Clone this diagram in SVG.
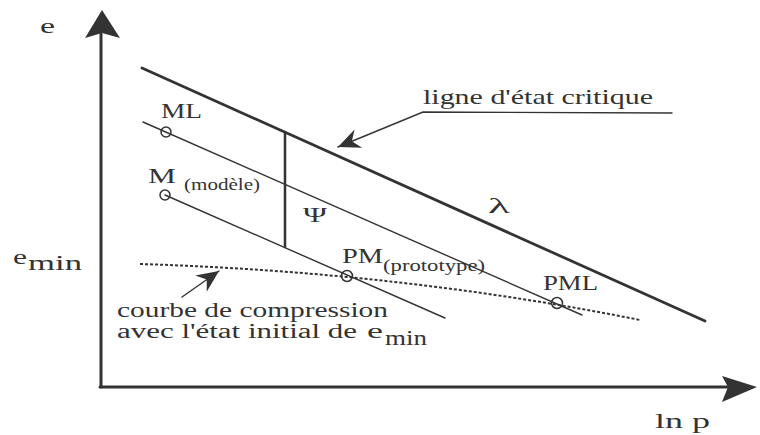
<svg xmlns="http://www.w3.org/2000/svg" width="760" height="435" viewBox="0 0 760 435">
<style>
.t{font-size:21px}
.c{font-size:20px}
.s{font-size:16px}
.ln{stroke:#333;fill:none;stroke-linecap:round}
.thin{stroke-width:1.4}
.thick{stroke-width:2.8}
.pt{fill:none;stroke:#333;stroke-width:1.5}
</style>
<defs>
<marker id="ah" markerUnits="userSpaceOnUse" viewBox="-24 -12 26 24" markerWidth="26" markerHeight="24" refX="0" refY="0" orient="auto">
<path d="M0,0 L-22,-10 L-15,0 L-22,10 Z" fill="#333"/>
</marker>
</defs>
<g id="axes">
<line class="ln" x1="101" y1="387" x2="101" y2="34" style="stroke-width:3"/>
<line class="ln" x1="100" y1="387" x2="728" y2="387" style="stroke-width:3"/>
<path d="M102,10 L120,38 L102,33 L85,38 Z" fill="#333"/>
<path d="M757,387 L722,376 L728,387 L722,402 Z" fill="#333"/>
</g>
<g id="connectors">
<line id="critical-line" class="ln thick" x1="142" y1="68" x2="705" y2="321"/>
<line id="ml-line" class="ln thin" x1="143" y1="122" x2="582" y2="315"/>
<line id="m-line" class="ln thin" x1="165" y1="195" x2="445" y2="318"/>
<line id="psi-line" class="ln" x1="285" y1="132" x2="285" y2="247" style="stroke-width:2.5"/>
<path id="compression-curve" class="ln" d="M140,264 Q400,272 640,320" style="stroke-width:2;stroke-dasharray:3 2;stroke-linecap:butt"/>
<polyline class="ln thin" points="672,113 423,112 338,147" marker-end="url(#ah)"/>
<line class="ln thin" x1="182" y1="297" x2="219" y2="271" marker-end="url(#ah)"/>
</g>
<g font-family="Liberation Serif, Times New Roman, serif" fill="#333" font-weight="normal">
<g id="e-axis-label"><text class="t" x="40" y="33" textLength="15" lengthAdjust="spacingAndGlyphs">e</text></g>
<g id="emin-label"><text class="t" x="13" y="264" textLength="14" lengthAdjust="spacingAndGlyphs">e</text><text class="t" x="28" y="270" textLength="54" lengthAdjust="spacingAndGlyphs">min</text></g>
<g id="lnp-label"><text class="t" x="655" y="428" textLength="55" lengthAdjust="spacingAndGlyphs">ln p</text></g>
<g id="ML"><circle class="pt" cx="166" cy="132" r="5"/><text class="t" x="161" y="118" textLength="41" lengthAdjust="spacingAndGlyphs">ML</text></g>
<g id="M"><circle class="pt" cx="165" cy="195" r="5"/><text class="t" x="148" y="183" textLength="28" lengthAdjust="spacingAndGlyphs">M</text><text class="s" x="184" y="190" textLength="76" lengthAdjust="spacingAndGlyphs">(modèle)</text></g>
<g id="PM"><circle class="pt" cx="347" cy="276" r="5.5"/><text class="t" x="342" y="263" textLength="41" lengthAdjust="spacingAndGlyphs">PM</text><text class="s" x="383" y="271" textLength="102" lengthAdjust="spacingAndGlyphs">(prototype)</text></g>
<g id="PML"><circle class="pt" cx="557" cy="303" r="5.5"/><text class="t" x="543" y="290" textLength="55" lengthAdjust="spacingAndGlyphs">PML</text></g>
<g id="psi"><text class="t" x="303" y="222" textLength="24" lengthAdjust="spacingAndGlyphs">Ψ</text></g>
<g id="lambda"><text class="t" x="488" y="213" textLength="22" lengthAdjust="spacingAndGlyphs">λ</text></g>
<g id="critical-label"><text class="t" x="423" y="104" textLength="230" lengthAdjust="spacingAndGlyphs">ligne d'état critique</text></g>
<g id="compression-label">
<text class="c" x="117" y="317" textLength="271" lengthAdjust="spacingAndGlyphs">courbe de compression</text>
<text class="c" x="117" y="338" textLength="240" lengthAdjust="spacingAndGlyphs">avec l'état initial de</text>
<text class="c" x="367" y="338" textLength="16" lengthAdjust="spacingAndGlyphs">e</text>
<text class="c" x="385" y="345" textLength="42" lengthAdjust="spacingAndGlyphs">min</text>
</g>
</g>
</svg>
